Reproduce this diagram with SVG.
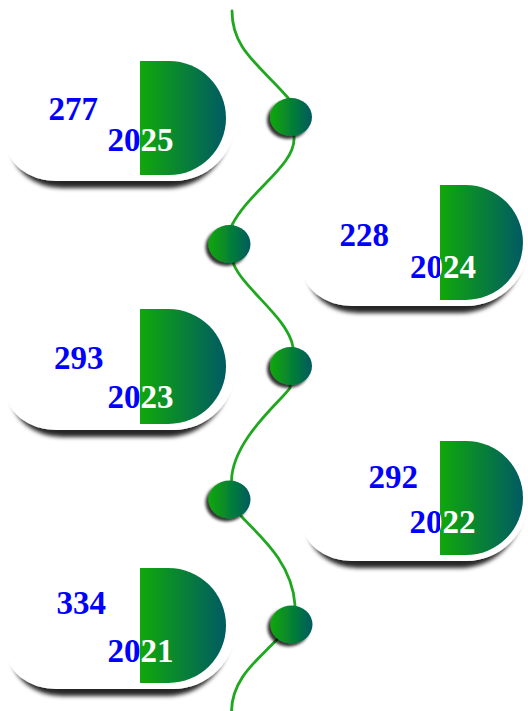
<svg xmlns="http://www.w3.org/2000/svg" width="528" height="711" viewBox="0 0 528 711">
<style>
.card{fill:#fff;filter:url(#cardShadow)}
.dot{fill:url(#gDot);filter:url(#dotShadow)}
.dshape{fill:url(#gD)}
.num{font-family:"Liberation Serif","Times New Roman",serif;font-weight:bold;font-size:33px;fill:#0000ff}
.yr{font-family:"Liberation Serif","Times New Roman",serif;font-weight:bold;font-size:33px}
.wire{fill:none;stroke:#1fa81f;stroke-width:2.8;stroke-linecap:round}
</style>
<defs>
<linearGradient id="gD" x1="0" y1="0" x2="1" y2="0">
<stop offset="0" stop-color="#10a80a"/>
<stop offset="1" stop-color="#005a63"/>
</linearGradient>
<linearGradient id="gDot" x1="0" y1="0" x2="1" y2="0">
<stop offset="0" stop-color="#0ca80a"/>
<stop offset="1" stop-color="#005a5f"/>
</linearGradient>
<filter id="cardShadow" x="-10%" y="-10%" width="120%" height="130%">
<feMorphology in="SourceAlpha" operator="erode" radius="6 0" result="e"/>
<feOffset in="e" dx="0" dy="7" result="o"/>
<feGaussianBlur in="o" stdDeviation="2" result="b"/>
<feFlood flood-color="#000" flood-opacity="0.85"/>
<feComposite in2="b" operator="in" result="s"/>
<feMerge><feMergeNode in="s"/><feMergeNode in="SourceGraphic"/></feMerge>
</filter>
<filter id="dotShadow" x="-30%" y="-30%" width="160%" height="160%">
<feDropShadow dx="-3" dy="3" stdDeviation="1.5" flood-color="#000" flood-opacity="0.8"/>
</filter>
<clipPath id="c1"><path d="M140,61 H169 A57,57 0 0 1 169,175 H140 Z"/></clipPath>
<clipPath id="c2"><path d="M440,185 H465.5 A57.5,57.5 0 0 1 465.5,300 H440 Z"/></clipPath>
<clipPath id="c3"><path d="M140,309 H168.5 A57.5,57.5 0 0 1 168.5,424 H140 Z"/></clipPath>
<clipPath id="c4"><path d="M440,441 H466 A57,57 0 0 1 466,555 H440 Z"/></clipPath>
<clipPath id="c5"><path d="M140,568 H168.5 A57.5,57.5 0 0 1 168.5,683 H140 Z"/></clipPath>
</defs>

<g id="connectors">
<path class="wire" d="M232,11 C232,50 260,65 289,99 L291,117 L294,137 C296,165 250,190 232,225 L229.5,244 L234,265 C245,290 288,318 293,347 L291,366 L290,388 C282,400 232,440 231.5,481 L229.5,499.5 L241.7,516.7 C255,532 292,560 295,605 L291.5,624.5 L273.3,643.3 C255,662 232,680 231.5,711"/>
</g>

<g id="card-2025">
<path class="card" d="M46,56 H173.5 A62.5,62.5 0 0 1 173.5,181 H56 A50,40 0 0 1 6,141 V96 A40,40 0 0 1 46,56 Z"/>
<text class="num" x="48.5" y="120">277</text>
<text class="yr" x="107.5" y="151" fill="#0000ff">2025</text>
<path class="dshape" d="M140,61 H169 A57,57 0 0 1 169,175 H140 Z"/>
<text class="yr" x="107.5" y="151" fill="#fff" clip-path="url(#c1)">2025</text>
</g>

<g id="card-2024">
<path class="card" d="M342,180 H466 A63,63 0 0 1 466,306 H352 A50,40 0 0 1 302,266 V220 A40,40 0 0 1 342,180 Z"/>
<text class="num" x="339.5" y="246">228</text>
<text class="yr" x="410" y="278" fill="#0000ff">2024</text>
<path class="dshape" d="M440,185 H465.5 A57.5,57.5 0 0 1 465.5,300 H440 Z"/>
<text class="yr" x="410" y="278" fill="#fff" clip-path="url(#c2)">2024</text>
</g>

<g id="card-2023">
<path class="card" d="M46,304 H173 A63,63 0 0 1 173,430 H56 A50,40 0 0 1 6,390 V344 A40,40 0 0 1 46,304 Z"/>
<text class="num" x="54" y="369">293</text>
<text class="yr" x="107.5" y="408" fill="#0000ff">2023</text>
<path class="dshape" d="M140,309 H168.5 A57.5,57.5 0 0 1 168.5,424 H140 Z"/>
<text class="yr" x="107.5" y="408" fill="#fff" clip-path="url(#c3)">2023</text>
</g>

<g id="card-2022">
<path class="card" d="M342,436 H466 A62.5,62.5 0 0 1 466,561 H352 A50,40 0 0 1 302,521 V476 A40,40 0 0 1 342,436 Z"/>
<text class="num" x="368.5" y="488">292</text>
<text class="yr" x="409.5" y="533" fill="#0000ff">2022</text>
<path class="dshape" d="M440,441 H466 A57,57 0 0 1 466,555 H440 Z"/>
<text class="yr" x="409.5" y="533" fill="#fff" clip-path="url(#c4)">2022</text>
</g>

<g id="card-2021">
<path class="card" d="M46,563 H173 A63,63 0 0 1 173,689 H56 A50,40 0 0 1 6,649 V603 A40,40 0 0 1 46,563 Z"/>
<text class="num" x="56.5" y="614">334</text>
<text class="yr" x="107.5" y="662" fill="#0000ff">2021</text>
<path class="dshape" d="M140,568 H168.5 A57.5,57.5 0 0 1 168.5,683 H140 Z"/>
<text class="yr" x="107.5" y="662" fill="#fff" clip-path="url(#c5)">2021</text>
</g>

<g id="dot-2025"><ellipse class="dot" cx="291" cy="117" rx="21" ry="19"/></g>
<g id="dot-2024"><ellipse class="dot" cx="229.5" cy="244" rx="21" ry="19"/></g>
<g id="dot-2023"><ellipse class="dot" cx="291" cy="366" rx="21" ry="19"/></g>
<g id="dot-2022"><ellipse class="dot" cx="229.5" cy="499.5" rx="21" ry="19"/></g>
<g id="dot-2021"><ellipse class="dot" cx="291.5" cy="624.5" rx="21" ry="19"/></g>
</svg>
